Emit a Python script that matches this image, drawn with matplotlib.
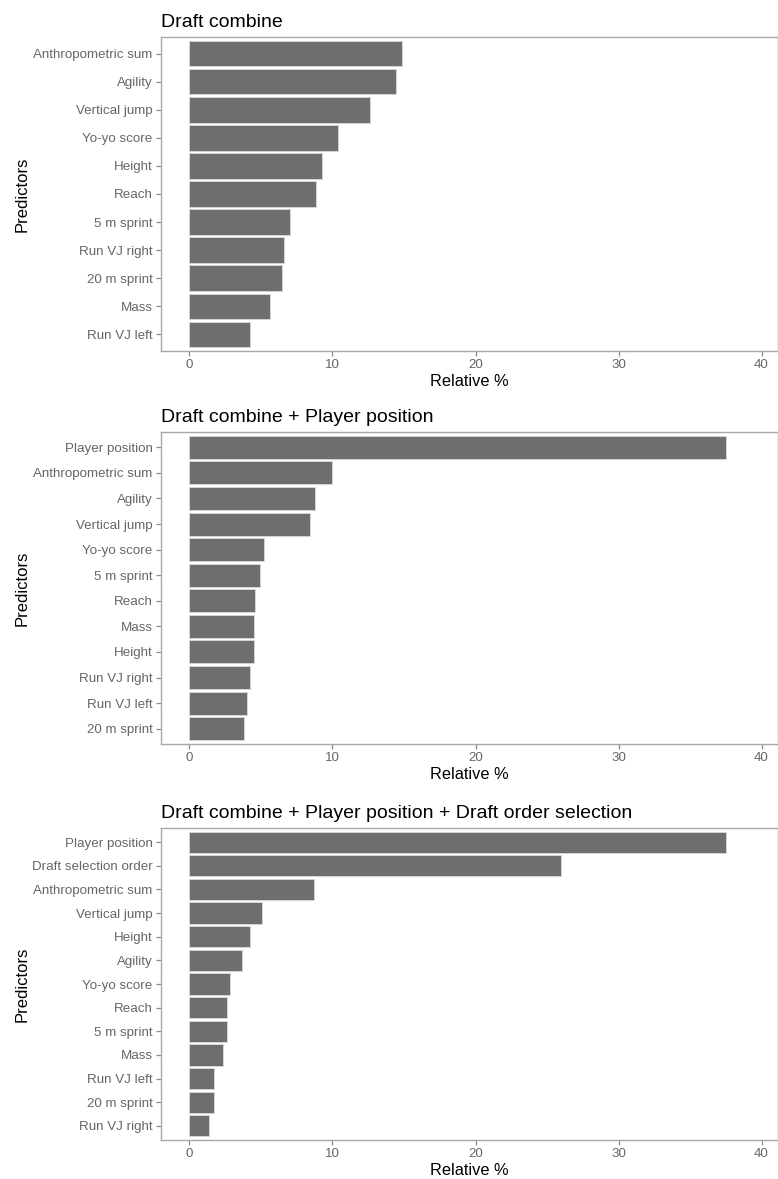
import numpy as np
import matplotlib.pyplot as plt

plt.rcParams["font.family"] = ["Liberation Sans", "DejaVu Sans"]

# --- data (top-to-bottom order as shown) ---
combine_labels = ["Anthropometric sum", "Agility", "Vertical jump", "Yo-yo score",
                  "Height", "Reach", "5 m sprint", "Run VJ right", "20 m sprint",
                  "Mass", "Run VJ left"]
combine_values = [14.85, 14.45, 12.65, 10.4, 9.25, 8.85, 7.0, 6.6, 6.45, 5.6, 4.2]

position_labels = ["Player position", "Anthropometric sum", "Agility", "Vertical jump",
                   "Yo-yo score", "5 m sprint", "Reach", "Mass", "Height",
                   "Run VJ right", "Run VJ left", "20 m sprint"]
position_values = [37.5, 10.0, 8.8, 8.4, 5.2, 4.9, 4.55, 4.5, 4.48, 4.25, 4.0, 3.8]

draft_labels = ["Player position", "Draft selection order", "Anthropometric sum",
                "Vertical jump", "Height", "Agility", "Yo-yo score", "Reach",
                "5 m sprint", "Mass", "Run VJ left", "20 m sprint", "Run VJ right"]
draft_values = [37.5, 26.0, 8.7, 5.1, 4.2, 3.7, 2.8, 2.65, 2.6, 2.35, 1.7, 1.7, 1.35]

titles = ["Draft combine",
          "Draft combine + Player position",
          "Draft combine + Player position + Draft order selection"]

panels = [(combine_labels, combine_values),
          (position_labels, position_values),
          (draft_labels, draft_values)]

W, H = 778, 1179
fig = plt.figure(figsize=(W / 100, H / 100), dpi=100)

# axes boxes in pixels: (top, bottom)
boxes = [(37, 351), (432, 744), (828, 1140)]
left_px, right_px = 161, 778

for (labels, values), title, (top, bot) in zip(panels, titles, boxes):
    ax = fig.add_axes([left_px / W, 1 - bot / H, (right_px - left_px) / W, (bot - top) / H])
    n = len(labels)
    y = np.arange(n)[::-1]
    ax.barh(y, values, height=0.9, color="#6e6e6e", edgecolor="#d9d9d9", linewidth=0.6)
    ax.set_yticks(y)
    ax.set_yticklabels(labels)
    ax.set_ylim(-0.6, n - 0.4)
    ax.set_xlim(-1.99, 41.15)
    ax.set_xticks([0, 10, 20, 30, 40])
    for s in ax.spines.values():
        s.set_color("#a8a8a8")
        s.set_linewidth(1.0)
    ax.tick_params(colors="#8a8a8a", labelcolor="#666666", labelsize=9.6,
                   length=3.5, width=0.9, pad=2.5)
    ax.set_title(title, loc="left", fontsize=14, pad=7, color="black")
    ax.set_xlabel("Relative %", fontsize=11.8, labelpad=2)
    ax.set_ylabel("Predictors", fontsize=12)
    ax.yaxis.set_label_coords((30 - left_px) / (right_px - left_px), 0.5)

fig.savefig("out.png", dpi=100)
